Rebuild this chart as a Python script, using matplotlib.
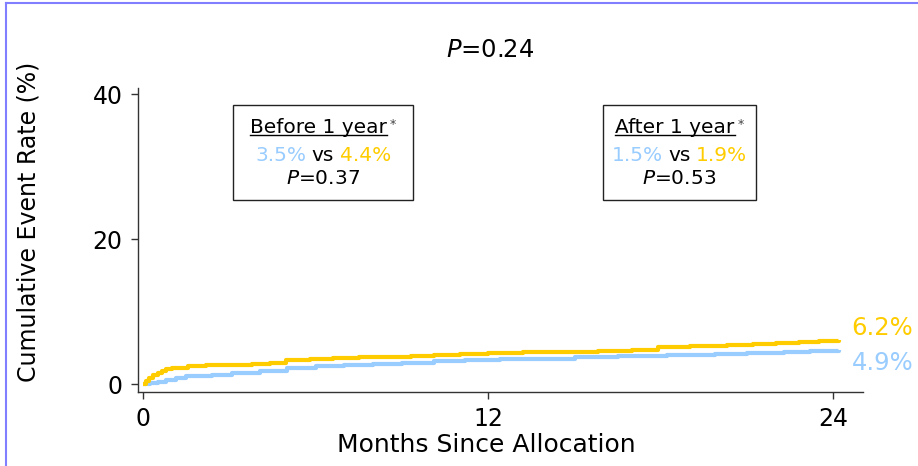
import matplotlib
matplotlib.use('Agg')
import matplotlib.pyplot as plt
from matplotlib.offsetbox import TextArea, HPacker, AnnotationBbox
from matplotlib.patches import Rectangle
from matplotlib.lines import Line2D

plt.rcParams['font.family'] = ['DejaVu Sans']
plt.rcParams['mathtext.fontset'] = 'dejavusans'

BLUE = '#99ccff'
GOLD = '#ffcc00'

# cumulative event rate (%), step-post
gold_t = [0, 0.1, 0.2, 0.35, 0.5, 0.65, 0.8, 1.0, 1.55, 2.2, 3.0, 3.8, 4.4, 4.95, 5.8, 6.6, 7.5,
          8.4, 9.3, 10.1, 11.0, 12.0, 13.2, 14.5, 15.8, 17.0, 17.9, 19.0, 20.3, 21.2, 22.0, 22.8,
          23.5, 24.2]
gold_v = [0, 0.5, 0.9, 1.3, 1.6, 1.9, 2.1, 2.25, 2.5, 2.6, 2.7, 2.8, 3.0, 3.4, 3.5, 3.6, 3.7,
          3.8, 3.9, 4.05, 4.15, 4.3, 4.4, 4.5, 4.6, 4.75, 5.2, 5.3, 5.45, 5.6, 5.75, 5.9,
          6.0, 6.1]

blue_t = [0, 0.25, 0.5, 0.8, 1.15, 1.5, 2.4, 3.1, 4.05, 5.0, 6.0, 7.0, 8.0, 9.0, 10.1, 11.2,
          12.4, 15.0, 16.5, 18.2, 19.9, 21.0, 22.3, 23.2, 24.2]
blue_v = [0, 0.2, 0.35, 0.55, 0.9, 1.1, 1.3, 1.6, 1.85, 2.2, 2.5, 2.65, 2.85, 3.0, 3.2, 3.35,
          3.45, 3.75, 3.85, 4.0, 4.2, 4.3, 4.4, 4.6, 4.8]

x_ticks = [0, 12, 24]
y_ticks = [0, 20, 40]

title_p = '$P$=0.24'
end_labels = ['6.2%', '4.9%']
box_titles = ['Before 1 year', 'After 1 year']
box_blue = ['3.5%', '1.5%']
box_gold = ['4.4%', '1.9%']
box_p = ['$P$=0.37', '$P$=0.53']

fig = plt.figure(figsize=(9.18, 4.66), dpi=100)
ax = fig.add_axes([0.1503, 0.1588, 0.7898, 0.6524])

ax.plot(blue_t, blue_v, drawstyle='steps-post', color=BLUE, lw=3, solid_capstyle='butt')
ax.plot(gold_t, gold_v, drawstyle='steps-post', color=GOLD, lw=3, solid_capstyle='butt')

ax.set_xlim(-0.18, 25.03)
ax.set_ylim(-1.06, 40.87)
ax.set_xticks(x_ticks)
ax.set_yticks(y_ticks)
for s in ['top', 'right']:
    ax.spines[s].set_visible(False)
for s in ['left', 'bottom']:
    ax.spines[s].set_color('#333333')
    ax.spines[s].set_linewidth(1)
ax.tick_params(direction='out', length=5, width=1, color='#333333', labelsize=17, pad=6)

ax.set_xlabel('Months Since Allocation', fontsize=18)
ax.set_ylabel('Cumulative Event Rate (%)', fontsize=17)
ax.xaxis.set_label_coords(0.481, -0.135)
ax.yaxis.set_label_coords(-0.135, 0.56)

fig.text(0.534, 1 - 50 / 466, title_p, fontsize=17.5, ha='center', va='center')

# end-of-curve labels
ax.annotate(end_labels[0], xy=(gold_t[-1], gold_v[-1]), xytext=(9, 8.5), textcoords='offset points',
            color=GOLD, fontsize=17.5, va='center', ha='left', annotation_clip=False)
ax.annotate(end_labels[1], xy=(blue_t[-1], blue_v[-1]), xytext=(9, -10), textcoords='offset points',
            color=BLUE, fontsize=17.5, va='center', ha='left', annotation_clip=False)

# the two inset boxes
box_x = [(3.12, 9.38), (15.99, 21.31)]
box_y = (25.4, 38.5)
under_texts = []
for i in range(2):
    x0, x1 = box_x[i]
    ax.add_patch(Rectangle((x0, box_y[0]), x1 - x0, box_y[1] - box_y[0], fill=False,
                           edgecolor='#222222', lw=1, clip_on=False))
    xc = (x0 + x1) / 2
    head = TextArea(box_titles[i], textprops=dict(fontsize=14.5, color='black'))
    star = TextArea('*', textprops=dict(fontsize=9, color='#444444'))
    row1 = HPacker(children=[head, star], align='top', pad=0, sep=2)
    row2 = HPacker(children=[TextArea(box_blue[i], textprops=dict(fontsize=14.5, color=BLUE)),
                             TextArea('vs', textprops=dict(fontsize=14.5, color='black')),
                             TextArea(box_gold[i], textprops=dict(fontsize=14.5, color=GOLD))],
                   align='baseline', pad=0, sep=4)
    row3 = TextArea(box_p[i], textprops=dict(fontsize=14.5, color='black'))
    for row, yv in [(row1, 35.4), (row2, 31.6), (row3, 28.4)]:
        ab = AnnotationBbox(row, (xc, yv), xycoords='data', frameon=False, pad=0,
                            box_alignment=(0.5, 0.5), annotation_clip=False)
        ax.add_artist(ab)
    under_texts.append(head)

# underline the box headings
fig.canvas.draw()
renderer = fig.canvas.get_renderer()
inv = fig.transFigure.inverted()
for ta in under_texts:
    bb = ta.get_children()[0].get_window_extent(renderer)
    (fx0, fy), (fx1, _) = inv.transform([(bb.x0, bb.y0 + 2.5), (bb.x1, bb.y0 + 2.5)])
    fig.add_artist(Line2D([fx0, fx1], [fy, fy], color='black', lw=1))

# partial frame around the picture
fig.add_artist(Line2D([5.5 / 918, 1], [1 - 2.5 / 466, 1 - 2.5 / 466], color='#7f7fff', lw=1.5))
fig.add_artist(Line2D([5.5 / 918, 5.5 / 918], [0, 1 - 2.5 / 466], color='#7f7fff', lw=1.5))

fig.savefig('out.png', dpi=100)
